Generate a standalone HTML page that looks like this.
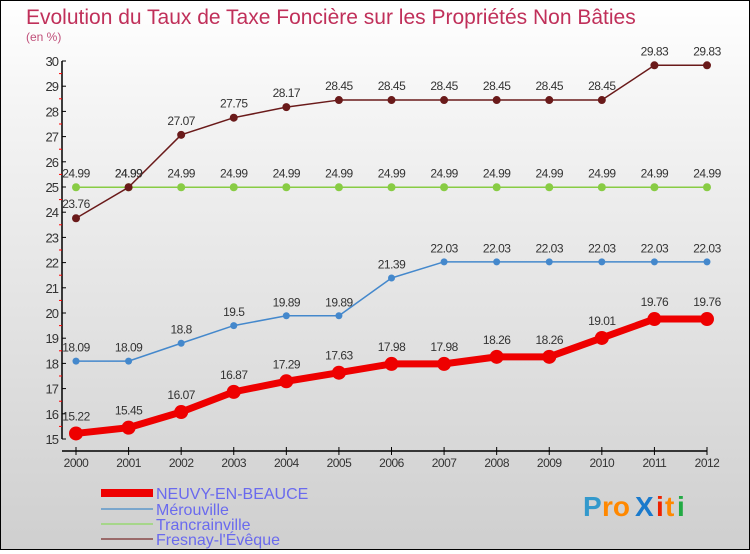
<!DOCTYPE html>
<html><head><meta charset="utf-8"><style>
html,body{margin:0;padding:0;}
body{width:750px;height:550px;overflow:hidden;font-family:"Liberation Sans","DejaVu Sans",sans-serif;}
#wrap{position:relative;width:748px;height:548px;border:1px solid #000;background:linear-gradient(#ffffff,#f4f4f4 20%,#cfcfcf);}
</style></head><body>
<div id="wrap">
<svg id="chart" width="748" height="548" xmlns="http://www.w3.org/2000/svg">
<text x="25" y="23" font-size="21" fill="#c0305a">Evolution du Taux de Taxe Foncière sur les Propriétés Non Bâties</text>
<text x="25" y="40" font-size="12" fill="#c0507a">(en %)</text>
<g id="axes"></g>
<g id="series"></g>
<g id="legend">
<line x1="100" y1="492" x2="152" y2="492" stroke="#ee0000" stroke-width="8"/>
<text x="155" y="498" font-size="16" fill="#6a6aee">NEUVY-EN-BEAUCE</text>
<line x1="100" y1="508" x2="152" y2="508" stroke="#7aa6cc" stroke-width="2"/>
<text x="155" y="514" font-size="16" fill="#6a6aee">Mérouville</text>
<line x1="100" y1="523" x2="152" y2="523" stroke="#a6d68a" stroke-width="2"/>
<text x="155" y="529" font-size="16" fill="#6a6aee">Trancrainville</text>
<line x1="100" y1="538" x2="152" y2="538" stroke="#9a6a6a" stroke-width="2"/>
<text x="155" y="544" font-size="16" fill="#6a6aee">Fresnay-l'Évêque</text>
</g>
<g font-size="28" font-weight="bold">
<text x="582" y="515" fill="#3399cc">P</text><text x="601" y="515" fill="#ff8800">ro</text><text x="634" y="515" fill="#1a7acc">X</text><text x="655" y="515" fill="#ee2200">i</text><text x="664" y="515" fill="#ff8800">t</text><text x="676" y="515" fill="#22aa44">i</text>
</g>
</svg>
</div>
<script>
const years=[2000,2001,2002,2003,2004,2005,2006,2007,2008,2009,2010,2011,2012];
const yTicks=[15,16,17,18,19,20,21,22,23,24,25,26,27,28,29,30];
const neuvy=[15.22,15.45,16.07,16.87,17.29,17.63,17.98,17.98,18.26,18.26,19.01,19.76,19.76];
const merouville=[18.09,18.09,18.8,19.5,19.89,19.89,21.39,22.03,22.03,22.03,22.03,22.03,22.03];
const trancrainville=[24.99,24.99,24.99,24.99,24.99,24.99,24.99,24.99,24.99,24.99,24.99,24.99,24.99];
const fresnay=[23.76,24.99,27.07,27.75,28.17,28.45,28.45,28.45,28.45,28.45,28.45,29.83,29.83];
const NS="http://www.w3.org/2000/svg";
function xs(i){return 75+i*(706-75)/(years.length-1);}
function ys(v){return 60+(30-v)*25.2;}
function mk(tag,attrs,parent){const e=document.createElementNS(NS,tag);for(const k in attrs)e.setAttribute(k,attrs[k]);parent.appendChild(e);return e;}
const ax=document.getElementById('axes');
let l=mk('line',{x1:61,y1:ys(30),x2:61,y2:ys(15),stroke:'#000','stroke-width':1.5},ax);


l=mk('line',{x1:61,y1:450,x2:706,y2:450,stroke:'#000','stroke-width':1.5},ax);


yTicks.forEach(v=>{
 mk('line',{x1:61,y1:ys(v),x2:65,y2:ys(v),stroke:'#000'},ax);
 if(v<30){mk('line',{x1:58,y1:ys(v+0.5),x2:61,y2:ys(v+0.5),stroke:'#ff0000'},ax);}
 const t=mk('text',{x:57,y:ys(v)+5,'font-size':13,fill:'#333','text-anchor':'end','letter-spacing':'-1'},ax);
 t.textContent=v;
 
 
});
years.forEach((y,i)=>{
 mk('line',{x1:xs(i),y1:446,x2:xs(i),y2:454,stroke:'#000'},ax);
 const t=mk('text',{x:xs(i),y:466,'font-size':12,fill:'#333','text-anchor':'middle','letter-spacing':'-0.5'},ax);
 t.textContent=y;
 
 
});
const sg=document.getElementById('series');
function draw(data,color,w,r,name){
 const g=mk('g',{},sg);
 
 
 const p=mk('polyline',{points:data.map((v,i)=>xs(i)+','+ys(v)).join(' '),fill:'none',stroke:color,'stroke-width':w,'stroke-linejoin':'round'},g);
 
 
 data.forEach((v,i)=>{
  const c=mk('circle',{cx:xs(i),cy:ys(v),r:r,fill:color},g);
  
  
  const t=mk('text',{x:xs(i),y:ys(v)-(r+6),'font-size':12,fill:'#333','text-anchor':'middle','letter-spacing':'-0.5'},g);
  t.textContent=v;
  
  
 });
}
draw(trancrainville,'#88cc44',1.5,4,'trancrainville');
draw(merouville,'#4488cc',1.5,3.5,'merouville');
draw(fresnay,'#6a1a1a',1.5,4,'fresnay');
draw(neuvy,'#ee0000',7,7,'neuvy');
</script>
</body></html>
